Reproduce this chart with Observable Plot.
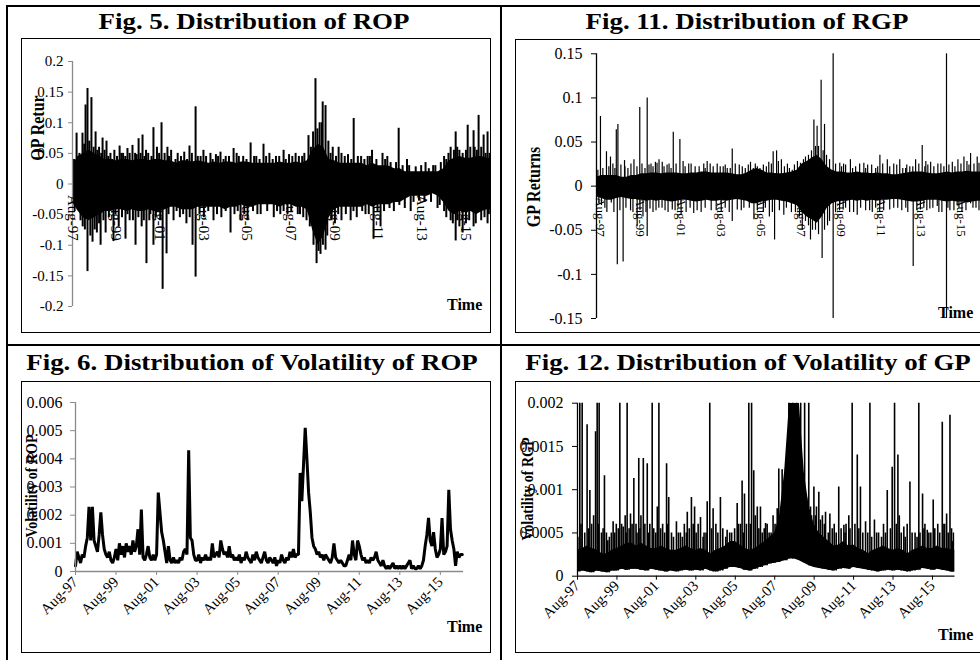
<!DOCTYPE html>
<html>
<head>
<meta charset="utf-8">
<script src="https://cdn.jsdelivr.net/npm/d3@7"></script>
<script src="https://cdn.jsdelivr.net/npm/@observablehq/plot@0.6"></script>
<style>
  body { margin: 0; background: #fff; }
  #page { position: relative; width: 980px; height: 660px; overflow: hidden; background: #fff;
          font-family: "Liberation Serif", "Times New Roman", serif; color: #000; }
  .rule { position: absolute; background: #000; }
  .box { position: absolute; border: 1.5px solid #000; box-sizing: border-box; }
  .chart { position: absolute; }
  .chart svg { display: block; overflow: visible; }
  .title { position: absolute; font-weight: bold; font-size: 23px; white-space: nowrap; line-height: 1;
           transform: translateX(-50%) scaleX(1.17); }
  .time { position: absolute; font-weight: bold; font-size: 16px; line-height: 1; }
  .ylab { position: absolute; font-weight: bold; white-space: nowrap; line-height: 1;
          transform: translate(-50%, -50%) rotate(-90deg) scaleY(1.17); }
</style>
</head>
<body>
<div id="page">
  <div class="rule" style="left:6px;top:5px;width:974px;height:2px"></div>
  <div class="rule" style="left:6px;top:5px;width:2px;height:655px"></div>
  <div class="rule" style="left:500px;top:5px;width:2px;height:655px"></div>
  <div class="rule" style="left:6px;top:344px;width:974px;height:2px"></div>

  <div class="box" style="left:21px;top:38px;width:470px;height:295px"></div>
  <div class="box" style="left:515px;top:39px;width:480px;height:294px"></div>
  <div class="box" style="left:21px;top:381px;width:470px;height:272px"></div>
  <div class="box" style="left:515px;top:381px;width:480px;height:272px"></div>

  <div class="chart" id="c1" style="left:21px;top:38px"></div>
  <div class="chart" id="c2" style="left:515px;top:39px"></div>
  <div class="chart" id="c3" style="left:21px;top:381px"></div>
  <div class="chart" id="c4" style="left:515px;top:381px"></div>

  <div class="title" style="left:254px;top:10px">Fig. 5. Distribution of ROP</div>
  <div class="title" style="left:747px;top:10px">Fig. 11. Distribution of RGP</div>
  <div class="title" style="left:252px;top:351px">Fig. 6. Distribution of Volatility of ROP</div>
  <div class="title" style="left:748px;top:351px">Fig. 12. Distribution of Volatility of GP</div>

  <div class="ylab" style="left:38px;top:128px;font-size:16px">OP Retur</div>
  <div class="ylab" style="left:534px;top:187px;font-size:16px">GP Returns</div>
  <div class="ylab" style="left:32px;top:486px;font-size:14px">Volatility of ROP</div>
  <div class="ylab" style="left:528px;top:489px;font-size:14px">Volatility of RGP</div>

  <div class="time" style="left:447px;top:297px">Time</div>
  <div class="time" style="left:938px;top:305px">Time</div>
  <div class="time" style="left:447px;top:619px">Time</div>
  <div class="time" style="left:938px;top:627px">Time</div>
</div>
<script>
// Time axis: decimal years, Aug 1997 to Sep 2016
const X_START = 1997.583, X_END = 2016.725;
const tickYears = [1997.583, 1999.583, 2001.583, 2003.583, 2005.583, 2007.583, 2009.583, 2011.583, 2013.583, 2015.583];
const tickLabels = ["Aug-97", "Aug-99", "Aug-01", "Aug-03", "Aug-05", "Aug-07", "Aug-09", "Aug-11", "Aug-13", "Aug-15"];

// ROP returns: quarterly core of the dense daily band (from Aug 1997)
const ropHi = [
  0.03, 0.045, 0.05, 0.055, 0.05, 0.045, 0.04, 0.04,
  0.038, 0.04, 0.04, 0.038, 0.04, 0.04, 0.038, 0.04,
  0.04, 0.038, 0.038, 0.034, 0.038, 0.038, 0.036, 0.038,
  0.036, 0.034, 0.036, 0.034, 0.036, 0.036, 0.034, 0.036,
  0.036, 0.034, 0.034, 0.034, 0.034, 0.034, 0.036, 0.034,
  0.034, 0.036, 0.034, 0.038, 0.055, 0.065, 0.06, 0.04,
  0.038, 0.034, 0.034, 0.034, 0.034, 0.034, 0.03, 0.034,
  0.03, 0.03, 0.029, 0.025, 0.025, 0.02, 0.02, 0.02,
  0.02, 0.02, 0.02, 0.02, 0.025, 0.038, 0.042, 0.045,
  0.042, 0.042, 0.045, 0.045, 0.042
];
const ropLo = [
  -0.03, -0.044, -0.055, -0.06, -0.055, -0.05, -0.045, -0.045,
  -0.042, -0.042, -0.045, -0.042, -0.045, -0.045, -0.042, -0.045,
  -0.045, -0.042, -0.038, -0.038, -0.042, -0.042, -0.042, -0.038,
  -0.038, -0.038, -0.038, -0.038, -0.042, -0.038, -0.038, -0.034,
  -0.038, -0.038, -0.034, -0.034, -0.034, -0.034, -0.038, -0.034,
  -0.034, -0.038, -0.038, -0.042, -0.075, -0.1, -0.085, -0.055,
  -0.042, -0.038, -0.038, -0.038, -0.038, -0.038, -0.034, -0.038,
  -0.034, -0.034, -0.034, -0.03, -0.03, -0.025, -0.02, -0.02,
  -0.02, -0.02, -0.016, -0.02, -0.03, -0.045, -0.05, -0.045,
  -0.045, -0.045, -0.05, -0.045, -0.042
];
// ROP returns: individual daily moves beyond the core [year, return]
const ropSpikes = [
  [1997.65, 0.04], [1997.77, 0.083], [1997.9, 0.05], [1998.04, 0.083], [1998.12, 0.065], [1998.18, 0.129],
  [1998.27, 0.156], [1998.35, 0.07], [1998.45, 0.141], [1998.55, 0.06], [1998.64, 0.085], [1998.72, 0.055],
  [1998.8, 0.06], [1998.9, 0.05], [1998.96, 0.075], [1999.05, 0.055], [1999.14, 0.07], [1999.22, 0.045],
  [1999.32, 0.05], [1999.4, 0.04], [1999.5, 0.055], [1999.62, 0.045], [1999.74, 0.062], [1999.82, 0.05],
  [1999.9, 0.05], [2000.0, 0.045], [2000.1, 0.058], [2000.2, 0.05], [2000.33, 0.063], [2000.45, 0.05],
  [2000.52, 0.048], [2000.61, 0.074], [2000.7, 0.05], [2000.79, 0.08], [2000.88, 0.045], [2000.95, 0.055],
  [2001.05, 0.05], [2001.2, 0.045], [2001.29, 0.092], [2001.45, 0.06], [2001.55, 0.05], [2001.66, 0.1],
  [2001.8, 0.05], [2001.93, 0.06], [2002.0, 0.045], [2002.1, 0.055], [2002.3, 0.04], [2002.4, 0.05],
  [2002.55, 0.045], [2002.7, 0.052], [2002.83, 0.04], [2002.94, 0.062], [2003.05, 0.05], [2003.22, 0.126],
  [2003.32, 0.045], [2003.45, 0.045], [2003.58, 0.055], [2003.7, 0.045], [2003.9, 0.05], [2004.0, 0.04],
  [2004.15, 0.048], [2004.25, 0.045], [2004.36, 0.052], [2004.5, 0.04], [2004.6, 0.045], [2004.75, 0.045],
  [2004.96, 0.058], [2005.1, 0.05], [2005.2, 0.045], [2005.4, 0.045], [2005.55, 0.04], [2005.74, 0.067],
  [2005.9, 0.045], [2006.0, 0.045], [2006.15, 0.04], [2006.33, 0.065], [2006.45, 0.045], [2006.6, 0.05],
  [2006.75, 0.04], [2006.9, 0.045], [2007.05, 0.045], [2007.25, 0.055], [2007.35, 0.04], [2007.5, 0.048],
  [2007.65, 0.045], [2007.8, 0.05], [2007.95, 0.045], [2008.1, 0.045], [2008.2, 0.05], [2008.39, 0.079],
  [2008.5, 0.06], [2008.6, 0.085], [2008.71, 0.172], [2008.8, 0.09], [2008.9, 0.1], [2009.0, 0.1],
  [2009.04, 0.134], [2009.17, 0.128], [2009.3, 0.07], [2009.4, 0.05], [2009.5, 0.06], [2009.65, 0.045],
  [2009.77, 0.06], [2009.9, 0.05], [2010.05, 0.045], [2010.2, 0.048], [2010.35, 0.04], [2010.46, 0.107],
  [2010.65, 0.045], [2010.8, 0.045], [2010.95, 0.04], [2011.1, 0.045], [2011.2, 0.045], [2011.3, 0.055],
  [2011.5, 0.04], [2011.78, 0.05], [2011.9, 0.04], [2012.0, 0.045], [2012.15, 0.035], [2012.4, 0.035],
  [2012.52, 0.091], [2012.7, 0.03], [2012.9, 0.04], [2013.0, 0.03], [2013.3, 0.028], [2013.55, 0.03],
  [2013.75, 0.035], [2013.9, 0.025], [2014.1, 0.03], [2014.2, 0.03], [2014.45, 0.035], [2014.6, 0.045],
  [2014.7, 0.04], [2014.8, 0.05], [2014.9, 0.06], [2015.05, 0.055], [2015.13, 0.085], [2015.2, 0.06],
  [2015.3, 0.055], [2015.45, 0.05], [2015.6, 0.055], [2015.68, 0.096], [2015.8, 0.06], [2015.95, 0.087],
  [2016.0, 0.06], [2016.1, 0.055], [2016.18, 0.112], [2016.3, 0.06], [2016.41, 0.08], [2016.5, 0.05],
  [2016.59, 0.085], [2016.68, 0.05],
  [1997.68, -0.045], [1997.95, -0.06], [1998.05, -0.07], [1998.15, -0.075], [1998.27, -0.143], [1998.4, -0.085],
  [1998.5, -0.095], [1998.6, -0.075], [1998.7, -0.08], [1998.8, -0.065], [1998.87, -0.1], [1999.0, -0.06],
  [1999.1, -0.08], [1999.25, -0.055], [1999.46, -0.094], [1999.55, -0.05], [1999.7, -0.07], [1999.85, -0.055],
  [2000.01, -0.09], [2000.1, -0.05], [2000.2, -0.06], [2000.35, -0.06], [2000.47, -0.1], [2000.6, -0.055],
  [2000.75, -0.07], [2000.85, -0.06], [2000.97, -0.13], [2001.1, -0.06], [2001.15, -0.05], [2001.29, -0.1],
  [2001.4, -0.055], [2001.6, -0.06], [2001.71, -0.172], [2001.89, -0.114], [2001.98, -0.05], [2002.21, -0.06],
  [2002.35, -0.045], [2002.5, -0.055], [2002.65, -0.05], [2002.8, -0.065], [2002.95, -0.055], [2003.08, -0.1],
  [2003.22, -0.152], [2003.4, -0.05], [2003.6, -0.055], [2003.8, -0.045], [2004.04, -0.06], [2004.2, -0.05],
  [2004.4, -0.055], [2004.6, -0.045], [2004.82, -0.08], [2005.0, -0.05], [2005.15, -0.045], [2005.28, -0.06],
  [2005.45, -0.05], [2005.6, -0.06], [2005.85, -0.045], [2006.05, -0.05], [2006.2, -0.05], [2006.5, -0.045],
  [2006.8, -0.055], [2006.95, -0.045], [2007.1, -0.05], [2007.25, -0.045], [2007.43, -0.05], [2007.6, -0.045],
  [2007.9, -0.05], [2008.0, -0.05], [2008.15, -0.055], [2008.3, -0.06], [2008.45, -0.07], [2008.62, -0.1],
  [2008.76, -0.13], [2008.85, -0.11], [2008.94, -0.115], [2009.05, -0.1], [2009.17, -0.108], [2009.25, -0.085],
  [2009.45, -0.06], [2009.6, -0.065], [2009.75, -0.05], [2009.9, -0.06], [2010.1, -0.05], [2010.32, -0.06],
  [2010.45, -0.045], [2010.6, -0.055], [2010.85, -0.045], [2011.0, -0.05], [2011.15, -0.05], [2011.37, -0.09],
  [2011.55, -0.045], [2011.69, -0.07], [2011.85, -0.045], [2012.1, -0.04], [2012.3, -0.045], [2012.55, -0.035],
  [2012.8, -0.04], [2013.07, -0.045], [2013.2, -0.03], [2013.45, -0.028], [2013.7, -0.03], [2014.0, -0.03],
  [2014.3, -0.04], [2014.4, -0.035], [2014.6, -0.045], [2014.7, -0.055], [2014.9, -0.06], [2015.0, -0.065],
  [2015.13, -0.093], [2015.2, -0.06], [2015.3, -0.07], [2015.45, -0.08], [2015.6, -0.065], [2015.75, -0.06],
  [2015.95, -0.07], [2016.05, -0.065], [2016.3, -0.06], [2016.45, -0.055], [2016.59, -0.065], [2016.65, -0.05]
];

// GP returns: quarterly core of the dense daily band
const gpHi = [
  0.01, 0.012, 0.012, 0.012, 0.012, 0.01, 0.01, 0.012,
  0.012, 0.014, 0.014, 0.015, 0.015, 0.014, 0.015, 0.015,
  0.015, 0.014, 0.014, 0.015, 0.015, 0.016, 0.016, 0.015,
  0.015, 0.015, 0.015, 0.014, 0.013, 0.013, 0.015, 0.018,
  0.02, 0.018, 0.015, 0.015, 0.014, 0.014, 0.015, 0.016,
  0.018, 0.025, 0.028, 0.032, 0.035, 0.03, 0.022, 0.018,
  0.016, 0.016, 0.015, 0.015, 0.016, 0.015, 0.015, 0.014,
  0.015, 0.014, 0.014, 0.013, 0.013, 0.014, 0.015, 0.016,
  0.016, 0.016, 0.015, 0.014, 0.014, 0.015, 0.016, 0.015,
  0.016, 0.016, 0.017, 0.016, 0.016
];
const gpLo = [
  -0.012, -0.014, -0.016, -0.016, -0.014, -0.013, -0.014, -0.015,
  -0.015, -0.016, -0.017, -0.016, -0.017, -0.016, -0.017, -0.018,
  -0.017, -0.016, -0.016, -0.017, -0.018, -0.017, -0.016, -0.017,
  -0.017, -0.016, -0.017, -0.016, -0.015, -0.016, -0.017, -0.02,
  -0.02, -0.018, -0.017, -0.016, -0.016, -0.017, -0.018, -0.02,
  -0.022, -0.03, -0.035, -0.038, -0.042, -0.035, -0.025, -0.02,
  -0.018, -0.017, -0.017, -0.016, -0.017, -0.016, -0.017, -0.016,
  -0.017, -0.016, -0.016, -0.015, -0.015, -0.016, -0.017, -0.018,
  -0.018, -0.017, -0.016, -0.016, -0.016, -0.017, -0.018, -0.017,
  -0.018, -0.018, -0.019, -0.018, -0.017
];
const gpSpikes = [
  [1997.65, 0.018], [1997.78, 0.079], [1997.9, 0.02], [1998.08, 0.039], [1998.2, 0.022], [1998.28, 0.033],
  [1998.4, 0.025], [1998.5, 0.02], [1998.57, 0.064], [1998.65, 0.07], [1998.8, 0.024], [1998.98, 0.029],
  [1999.0, 0.022], [1999.15, 0.02], [1999.3, 0.025], [1999.45, 0.03], [1999.6, 0.022], [1999.74, 0.089],
  [1999.85, 0.025], [2000.0, 0.02], [2000.11, 0.1], [2000.2, 0.024], [2000.3, 0.025], [2000.4, 0.022],
  [2000.52, 0.027], [2000.6, 0.026], [2000.7, 0.03], [2000.86, 0.027], [2000.95, 0.022], [2001.1, 0.024],
  [2001.2, 0.025], [2001.3, 0.02], [2001.41, 0.061], [2001.55, 0.025], [2001.74, 0.053], [2001.9, 0.028],
  [2002.0, 0.022], [2002.18, 0.025], [2002.3, 0.025], [2002.5, 0.022], [2002.7, 0.022], [2002.93, 0.025],
  [2003.0, 0.02], [2003.1, 0.028], [2003.25, 0.025], [2003.4, 0.022], [2003.6, 0.025], [2003.75, 0.022],
  [2003.9, 0.022], [2004.0, 0.024], [2004.1, 0.02], [2004.25, 0.02], [2004.35, 0.042], [2004.5, 0.025],
  [2004.7, 0.024], [2004.85, 0.022], [2005.0, 0.02], [2005.15, 0.024], [2005.26, 0.027], [2005.4, 0.02],
  [2005.5, 0.025], [2005.6, 0.022], [2005.73, 0.02], [2005.9, 0.024], [2006.05, 0.022], [2006.17, 0.027],
  [2006.3, 0.025], [2006.39, 0.039], [2006.56, 0.04], [2006.65, 0.028], [2006.8, 0.03], [2006.95, 0.022],
  [2007.1, 0.025], [2007.2, 0.02], [2007.34, 0.018], [2007.45, 0.024], [2007.6, 0.028], [2007.75, 0.026],
  [2007.9, 0.03], [2008.0, 0.033], [2008.15, 0.035], [2008.3, 0.04], [2008.42, 0.075], [2008.5, 0.045],
  [2008.58, 0.068], [2008.65, 0.045], [2008.78, 0.12], [2008.88, 0.04], [2008.95, 0.07], [2009.05, 0.035],
  [2009.2, 0.03], [2009.38, 0.15], [2009.5, 0.025], [2009.71, 0.026], [2009.8, 0.022], [2009.9, 0.025],
  [2010.0, 0.024], [2010.24, 0.03], [2010.35, 0.02], [2010.5, 0.022], [2010.7, 0.025], [2010.91, 0.026],
  [2011.0, 0.02], [2011.1, 0.024], [2011.3, 0.024], [2011.5, 0.02], [2011.6, 0.022], [2011.71, 0.035],
  [2011.85, 0.025], [2012.08, 0.03], [2012.2, 0.022], [2012.4, 0.025], [2012.55, 0.024], [2012.7, 0.03],
  [2012.85, 0.02], [2012.99, 0.02], [2013.05, 0.024], [2013.2, 0.022], [2013.35, 0.022], [2013.49, 0.03],
  [2013.65, 0.025], [2013.82, 0.046], [2013.95, 0.022], [2014.0, 0.028], [2014.1, 0.024], [2014.24, 0.027],
  [2014.4, 0.022], [2014.6, 0.025], [2014.75, 0.025], [2014.9, 0.022], [2015.03, 0.15], [2015.15, 0.024],
  [2015.32, 0.027], [2015.45, 0.022], [2015.6, 0.03], [2015.75, 0.025], [2015.9, 0.033], [2016.05, 0.028],
  [2016.15, 0.024], [2016.23, 0.037], [2016.4, 0.025], [2016.56, 0.033], [2016.65, 0.026],
  [1997.7, -0.02], [1997.83, -0.022], [1998.0, -0.025], [1998.1, -0.03], [1998.32, -0.019], [1998.45, -0.03],
  [1998.62, -0.089], [1998.75, -0.028], [1998.91, -0.086], [1999.05, -0.025], [1999.28, -0.028], [1999.4, -0.03],
  [1999.61, -0.046], [1999.75, -0.028], [1999.9, -0.035], [2000.05, -0.03], [2000.11, -0.057], [2000.25, -0.026],
  [2000.4, -0.03], [2000.55, -0.028], [2000.69, -0.025], [2000.85, -0.025], [2001.0, -0.028], [2001.15, -0.03],
  [2001.36, -0.027], [2001.5, -0.028], [2001.65, -0.025], [2001.8, -0.032], [2002.05, -0.03], [2002.25, -0.025],
  [2002.43, -0.031], [2002.6, -0.028], [2002.8, -0.03], [2003.0, -0.025], [2003.3, -0.028], [2003.55, -0.028],
  [2003.8, -0.03], [2004.0, -0.025], [2004.2, -0.03], [2004.35, -0.04], [2004.6, -0.027], [2004.8, -0.028],
  [2004.93, -0.025], [2005.2, -0.025], [2005.43, -0.038], [2005.6, -0.028], [2005.9, -0.03], [2006.0, -0.025],
  [2006.2, -0.035], [2006.35, -0.03], [2006.46, -0.061], [2006.7, -0.028], [2006.92, -0.033], [2007.05, -0.025],
  [2007.3, -0.03], [2007.5, -0.03], [2007.7, -0.035], [2007.84, -0.05], [2008.0, -0.04], [2008.15, -0.045],
  [2008.25, -0.061], [2008.35, -0.05], [2008.5, -0.05], [2008.65, -0.055], [2008.83, -0.082], [2008.95, -0.05],
  [2009.1, -0.045], [2009.2, -0.04], [2009.38, -0.15], [2009.5, -0.03], [2009.7, -0.028], [2009.88, -0.027],
  [2010.0, -0.025], [2010.2, -0.03], [2010.4, -0.03], [2010.58, -0.033], [2010.75, -0.025], [2011.0, -0.028],
  [2011.2, -0.028], [2011.33, -0.03], [2011.5, -0.025], [2011.7, -0.03], [2011.9, -0.028], [2012.2, -0.027],
  [2012.4, -0.025], [2012.6, -0.025], [2012.8, -0.028], [2013.0, -0.025], [2013.1, -0.03], [2013.37, -0.091],
  [2013.55, -0.028], [2013.73, -0.027], [2013.9, -0.025], [2014.05, -0.028], [2014.2, -0.026], [2014.35, -0.025],
  [2014.57, -0.023], [2014.65, -0.03], [2014.8, -0.03], [2015.03, -0.15], [2015.1, -0.025], [2015.2, -0.028],
  [2015.4, -0.028], [2015.56, -0.022], [2015.65, -0.025], [2015.8, -0.03], [2016.0, -0.028], [2016.23, -0.02],
  [2016.35, -0.025], [2016.5, -0.025], [2016.65, -0.028]
];

// Conditional volatility of ROP, monthly from Aug 1997 (one row per Aug-Jul year)
const ropVol = [
  0.0002, 0.0007, 0.0005, 0.0003, 0.0006, 0.0005, 0.0009, 0.0012, 0.0023, 0.0011, 0.0023, 0.0011,
  0.0009, 0.0007, 0.0013, 0.0021, 0.0013, 0.0008, 0.0006, 0.0005, 0.0007, 0.0004, 0.0003, 0.0005,
  0.0008, 0.0004, 0.001, 0.0006, 0.0009, 0.0005, 0.001, 0.0007, 0.0009, 0.0006, 0.0011, 0.0007,
  0.0009, 0.0015, 0.0006, 0.0022, 0.0005, 0.0004, 0.0006, 0.0009, 0.0005, 0.0004, 0.0006, 0.0004,
  0.0006, 0.0028, 0.0021, 0.0014, 0.0011, 0.0007, 0.0003, 0.0009, 0.0004, 0.0003, 0.0005, 0.0003,
  0.0004, 0.0003, 0.0005, 0.0004, 0.0007, 0.0008, 0.0006, 0.0043, 0.0012, 0.0011, 0.0006, 0.0004,
  0.0004, 0.0006, 0.0003, 0.0005, 0.0004, 0.0006, 0.0004, 0.0005, 0.0004, 0.001, 0.0005, 0.0006,
  0.0007, 0.0005, 0.0011, 0.0008, 0.0006, 0.0007, 0.0005, 0.0009, 0.0005, 0.0006, 0.0004, 0.0005,
  0.0004, 0.0006, 0.0003, 0.0005, 0.0004, 0.0007, 0.0005, 0.0004, 0.0003, 0.0006, 0.0004, 0.0007,
  0.0005, 0.0004, 0.0003, 0.0005, 0.0007, 0.0004, 0.0003, 0.0005, 0.0004, 0.0003, 0.0005, 0.0002,
  0.0004, 0.0003, 0.0006, 0.0004, 0.0003, 0.0005, 0.0004, 0.0007, 0.0005, 0.0008, 0.0005, 0.0006,
  0.0006, 0.0035, 0.0025, 0.0038, 0.0051, 0.004, 0.0028, 0.0021, 0.0012, 0.0009, 0.0008, 0.0006,
  0.0007, 0.0005, 0.0006, 0.0004, 0.0006, 0.0005, 0.0004, 0.0003, 0.0005, 0.001, 0.0005, 0.0004,
  0.0003, 0.0004, 0.0003, 0.0002, 0.0002, 0.0004, 0.0006, 0.0004, 0.0011, 0.0006, 0.0004, 0.0011,
  0.0009, 0.0006, 0.0004, 0.0005, 0.0003, 0.0004, 0.0003, 0.0005, 0.0004, 0.0005, 0.0007, 0.0004,
  0.0003, 0.0002, 0.0004, 0.0002, 0.0001, 0.0002, 0.0001, 0.0002, 0.0003, 0.0001, 0.0002, 0.0001,
  0.0002, 0.0001, 0.0002, 0.0001, 0.0002, 0.0003, 0.0004, 0.0001, 0.0002, 0.0001, 0.0001, 0.0002,
  0.0001, 0.0002, 0.0004, 0.0009, 0.0013, 0.0019, 0.0011, 0.0009, 0.0014, 0.0008, 0.0005, 0.0006,
  0.0008, 0.0019, 0.0006, 0.0007, 0.0009, 0.0029, 0.0015, 0.0011, 0.0008, 0.0002, 0.0007, 0.0005,
  0.0006, 0.0006
];

// Conditional volatility of GP: quarterly band plus individual bursts
const gpVolHi = [
  0.0003, 0.00032, 0.00035, 0.00032, 0.0003, 0.00026, 0.00026, 0.0003,
  0.00032, 0.00035, 0.00038, 0.00038, 0.00035, 0.00038, 0.00035, 0.00032,
  0.00032, 0.00035, 0.00032, 0.0003, 0.0003, 0.00032, 0.00035, 0.00032,
  0.0003, 0.00032, 0.0003, 0.00026, 0.0003, 0.00032, 0.00035, 0.0004,
  0.0004, 0.00036, 0.00032, 0.0003, 0.00032, 0.00036, 0.0004, 0.00045,
  0.0005, 0.0007, 0.0012, 0.002, 0.002, 0.002, 0.0012, 0.0008,
  0.0006, 0.0005, 0.00045, 0.0004, 0.00035, 0.00036, 0.0004, 0.00035,
  0.00036, 0.00032, 0.0003, 0.00026, 0.0003, 0.00032, 0.00035, 0.00032,
  0.0003, 0.00032, 0.0003, 0.00026, 0.0003, 0.00032, 0.00035, 0.00032,
  0.00032, 0.00035, 0.00032, 0.00032, 0.0003
];
const gpVolLo = [
  0.00005, 0.00006, 0.00005, 0.00004, 0.00006, 0.00005, 0.00004, 0.00006,
  0.00006, 0.00008, 0.00007, 0.00008, 0.00008, 0.00007, 0.00006, 0.00008,
  0.00007, 0.00006, 0.00005, 0.00006, 0.00005, 0.00006, 0.00007, 0.00006,
  0.00007, 0.00006, 0.00008, 0.00006, 0.00005, 0.00006, 0.00008, 0.0001,
  0.0001, 0.00009, 0.00007, 0.00006, 0.00008, 0.0001, 0.00012, 0.00014,
  0.00015, 0.00016, 0.00018, 0.0002, 0.0002, 0.00018, 0.00015, 0.00012,
  0.0001, 0.00009, 0.00008, 0.00007, 0.00006, 0.00008, 0.00009, 0.00008,
  0.0001, 0.00009, 0.00008, 0.00007, 0.00006, 0.00005, 0.00006, 0.00007,
  0.00006, 0.00007, 0.00006, 0.00005, 0.00006, 0.00007, 0.00009, 0.00008,
  0.00007, 0.00008, 0.00007, 0.00006, 0.00005
];
// bursts above the band; 0.0025 marks a burst running off the top of the axis
const gpVolSpikes = [
  [1997.6, 0.00045], [1997.7, 0.0025], [1997.76, 0.0006], [1997.82, 0.0025], [1997.95, 0.0005], [1998.07, 0.00175],
  [1998.15, 0.00055], [1998.21, 0.00099], [1998.3, 0.0006], [1998.4, 0.0007], [1998.5, 0.00167], [1998.58, 0.0025],
  [1998.63, 0.0006], [1998.68, 0.0025], [1998.8, 0.0005], [1998.88, 0.00055], [1998.95, 0.00116], [1999.05, 0.0005],
  [1999.12, 0.00041], [1999.2, 0.00045], [1999.3, 0.0005], [1999.39, 0.00063], [1999.47, 0.0005], [1999.55, 0.0006],
  [1999.65, 0.00055], [1999.73, 0.0025], [1999.82, 0.0006], [1999.9, 0.00057], [2000.0, 0.0007], [2000.05, 0.0005],
  [2000.1, 0.0025], [2000.2, 0.00055], [2000.27, 0.00072], [2000.35, 0.0006], [2000.44, 0.00113], [2000.55, 0.0006],
  [2000.6, 0.0005], [2000.69, 0.00136], [2000.75, 0.00055], [2000.8, 0.0007], [2000.92, 0.00136], [2001.0, 0.0006],
  [2001.12, 0.0013], [2001.18, 0.0005], [2001.25, 0.0006], [2001.37, 0.0025], [2001.45, 0.00055], [2001.55, 0.0005],
  [2001.63, 0.0008], [2001.71, 0.0025], [2001.8, 0.00055], [2001.9, 0.0006], [2002.0, 0.0005], [2002.1, 0.0013],
  [2002.15, 0.0006], [2002.21, 0.00091], [2002.35, 0.0005], [2002.45, 0.00045], [2002.6, 0.00063], [2002.7, 0.0005],
  [2002.8, 0.0005], [2002.9, 0.00045], [2003.0, 0.0006], [2003.1, 0.0005], [2003.15, 0.00074], [2003.25, 0.00055],
  [2003.36, 0.00091], [2003.45, 0.0006], [2003.52, 0.0008], [2003.6, 0.0005], [2003.7, 0.0006], [2003.82, 0.00068],
  [2003.95, 0.00045], [2004.0, 0.0005], [2004.1, 0.0005], [2004.16, 0.00086], [2004.29, 0.0025], [2004.38, 0.00055],
  [2004.46, 0.00078], [2004.6, 0.0006], [2004.7, 0.0005], [2004.83, 0.00091], [2004.95, 0.00055], [2005.1, 0.00045],
  [2005.17, 0.00053], [2005.3, 0.0005], [2005.4, 0.0005], [2005.55, 0.00055], [2005.68, 0.00084], [2005.75, 0.0006],
  [2005.85, 0.0006], [2005.93, 0.0011], [2006.0, 0.0005], [2006.05, 0.00095], [2006.15, 0.0006], [2006.27, 0.0025],
  [2006.35, 0.0006], [2006.41, 0.0025], [2006.52, 0.00122], [2006.6, 0.0007], [2006.7, 0.0008], [2006.78, 0.00055],
  [2006.86, 0.0008], [2006.95, 0.0005], [2007.05, 0.00055], [2007.12, 0.00061], [2007.2, 0.0006], [2007.3, 0.0005],
  [2007.4, 0.0005], [2007.5, 0.0007], [2007.6, 0.0006], [2007.71, 0.00078], [2007.79, 0.00124], [2007.85, 0.0007],
  [2007.96, 0.00123], [2008.05, 0.0008], [2008.13, 0.00123], [2008.2, 0.001], [2008.3, 0.0025], [2008.5, 0.0025],
  [2008.7, 0.0025], [2008.9, 0.0025], [2009.1, 0.0025], [2009.2, 0.0009], [2009.31, 0.0025], [2009.4, 0.0008],
  [2009.45, 0.0007], [2009.57, 0.00103], [2009.65, 0.0007], [2009.7, 0.0008], [2009.82, 0.00097], [2009.9, 0.00065],
  [2010.0, 0.0007], [2010.1, 0.0006], [2010.16, 0.00074], [2010.3, 0.0005], [2010.38, 0.00072], [2010.5, 0.00055],
  [2010.6, 0.0006], [2010.7, 0.0005], [2010.83, 0.00103], [2010.95, 0.00055], [2011.09, 0.00059], [2011.15, 0.0005],
  [2011.2, 0.0006], [2011.34, 0.0007], [2011.4, 0.00055], [2011.51, 0.0025], [2011.65, 0.0006], [2011.77, 0.0014],
  [2011.85, 0.00055], [2011.93, 0.00103], [2012.05, 0.0005], [2012.19, 0.00063], [2012.3, 0.0005], [2012.41, 0.0025],
  [2012.5, 0.00045], [2012.64, 0.00065], [2012.75, 0.0005], [2012.85, 0.0005], [2013.0, 0.00045], [2013.1, 0.0006],
  [2013.2, 0.0005], [2013.29, 0.00099], [2013.45, 0.00055], [2013.54, 0.00126], [2013.66, 0.0025], [2013.75, 0.0006],
  [2013.83, 0.0014], [2013.9, 0.0007], [2014.0, 0.0005], [2014.13, 0.00057], [2014.2, 0.00045], [2014.3, 0.0006],
  [2014.44, 0.00109], [2014.55, 0.0005], [2014.7, 0.0005], [2014.8, 0.00045], [2014.89, 0.0025], [2014.95, 0.0005],
  [2015.08, 0.00095], [2015.15, 0.00055], [2015.2, 0.0006], [2015.32, 0.00053], [2015.4, 0.0005], [2015.5, 0.0005],
  [2015.62, 0.00088], [2015.7, 0.00055], [2015.85, 0.0006], [2015.95, 0.0005], [2016.08, 0.00178], [2016.12, 0.0006],
  [2016.2, 0.0006], [2016.3, 0.00072], [2016.38, 0.0005], [2016.47, 0.00186], [2016.55, 0.00055], [2016.59, 0.0004],
  [2016.65, 0.0005]
];

// Y axis ticks and their printed labels
const ropTicks = [0.2, 0.15, 0.1, 0.05, 0, -0.05, -0.1, -0.15, -0.2];
const ropTickLabels = ["0.2", "0.15", "0.1", "0.05", "0", "-0.05", "-0.1", "-0.15", "-0.2"];
const gpTicks = [0.15, 0.1, 0.05, 0, -0.05, -0.1, -0.15];
const gpTickLabels = ["0.15", "0.1", "0.05", "0", "-0.05", "-0.1", "-0.15"];
const ropVolTicks = [0.006, 0.005, 0.004, 0.003, 0.002, 0.001, 0];
const ropVolTickLabels = ["0.006", "0.005", "0.004", "0.003", "0.002", "0.001", "0"];
const gpVolTicks = [0.002, 0.0015, 0.001, 0.0005, 0];
const gpVolTickLabels = ["0.002", "0.0015", "0.001", "0.0005", "0"];

// ---- helpers ----
const quarterly = (lo, hi) => {
  const rows = lo.map((l, i) => ({t: X_START + i * 0.25, lo: l, hi: hi[i]}));
  rows.push({t: X_END, lo: lo[lo.length - 1], hi: hi[hi.length - 1]});
  return rows;
};
const spikeRows = (pairs, base) => pairs.map(([t, v]) => ({t, v, b: base ? base(t) : 0}));
const labeller = (ticks, labels) => { const m = new Map(ticks.map((t, i) => [t, labels[i]])); return d => m.get(d); };
const xLabel = labeller(tickYears, tickLabels);
const FONT = "Liberation Serif, Times New Roman, serif";

function draw(id, o) {
  const svg = Plot.plot({
    width: o.width, height: o.height,
    marginTop: o.mt, marginRight: o.mr, marginBottom: o.mb, marginLeft: o.ml,
    x: {domain: [X_START, X_END], axis: null, label: null},
    y: {domain: o.yDomain, label: null},
    style: {fontFamily: FONT, fontSize: o.fontSize + "px", color: "#000", background: "transparent", overflow: "visible"},
    marks: [
      ...o.marks,
      Plot.ruleX([X_START], {y1: o.yDomain[0], y2: o.yDomain[1], stroke: o.axisColor, strokeWidth: 1.3}),
      Plot.axisY({ticks: o.yTicks, tickFormat: labeller(o.yTicks, o.yLabels), tickSize: o.tickSize, tickPadding: o.tickPadding,
                  stroke: o.axisColor, fill: "#000", fontSize: o.fontSize, label: null}),
      ...(o.after || [])
    ]
  });
  document.getElementById(id).appendChild(svg);
}

// Fig. 5 — ROP returns
draw("c1", {
  width: 469, height: 294, mt: 23, mr: 0, mb: 26, ml: 51,
  yDomain: [-0.2, 0.2], yTicks: ropTicks, yLabels: ropTickLabels,
  axisColor: "#8a8a8a", fontSize: 15, tickSize: 4, tickPadding: 5,
  marks: [
    Plot.areaY(quarterly(ropLo, ropHi), {x: "t", y1: "lo", y2: "hi", fill: "#000"}),
    Plot.ruleX(spikeRows(ropSpikes), {x: "t", y1: "b", y2: "v", stroke: "#000", strokeWidth: 2})
  ],
  after: [
    Plot.text(tickYears, {x: d => d, y: 0, text: xLabel, rotate: 90, textAnchor: "start", dy: 11, fontSize: 15, fill: "#000"})
  ]
});

// Fig. 11 — GP returns
draw("c2", {
  width: 465, height: 293, mt: 14.3, mr: 0, mb: 14, ml: 81,
  yDomain: [-0.15, 0.15], yTicks: gpTicks, yLabels: gpTickLabels,
  axisColor: "#000", fontSize: 16, tickSize: 5, tickPadding: 9,
  marks: [
    Plot.areaY(quarterly(gpLo, gpHi), {x: "t", y1: "lo", y2: "hi", fill: "#000"}),
    Plot.ruleX(spikeRows(gpSpikes), {x: "t", y1: "b", y2: "v", stroke: "#000", strokeWidth: 1.2})
  ],
  after: [
    Plot.text(tickYears, {x: d => d, y: 0, text: xLabel, rotate: 90, textAnchor: "start", dx: 4, dy: 11, fontSize: 13, fill: "#000"})
  ]
});

// Fig. 6 — volatility of ROP
const ropVolRows = ropVol.map((v, i) => ({t: X_START + i / 12, v}));
draw("c3", {
  width: 469, height: 271, mt: 21, mr: 27, mb: 81, ml: 54,
  yDomain: [0, 0.006], yTicks: ropVolTicks, yLabels: ropVolTickLabels,
  axisColor: "#8a8a8a", fontSize: 16, tickSize: 5, tickPadding: 8,
  marks: [
    Plot.ruleY([0], {stroke: "#8a8a8a", strokeWidth: 1.3}),
    Plot.lineY(ropVolRows, {x: "t", y: "v", stroke: "#000", strokeWidth: 3, strokeLinejoin: "miter"})
  ],
  after: [
    Plot.axisX({ticks: tickYears, tickFormat: xLabel, tickRotate: -45, tickSize: 4, tickPadding: 4,
                stroke: "#8a8a8a", fill: "#000", fontSize: 15, label: null})
  ]
});

// Fig. 12 — volatility of GP
const loAt = t => { const i = Math.max(0, Math.min(gpVolLo.length - 1, Math.round((t - X_START) / 0.25))); return gpVolLo[i]; };
draw("c4", {
  width: 465, height: 271, mt: 21.7, mr: 25.5, mb: 76.3, ml: 62,
  yDomain: [0, 0.002], yTicks: gpVolTicks, yLabels: gpVolTickLabels,
  axisColor: "#000", fontSize: 16, tickSize: 5, tickPadding: 9,
  marks: [
    Plot.areaY(quarterly(gpVolLo, gpVolHi), {x: "t", y1: "lo", y2: "hi", fill: "#000", clip: true}),
    Plot.ruleX(spikeRows(gpVolSpikes, loAt), {x: "t", y1: "b", y2: "v", stroke: "#000", strokeWidth: 1.6, clip: true}),
    Plot.ruleY([0], {stroke: "#000", strokeWidth: 1.3})
  ],
  after: [
    Plot.axisX({ticks: tickYears, tickFormat: xLabel, tickRotate: -45, tickSize: 4, tickPadding: 3,
                stroke: "#000", fill: "#000", fontSize: 15, label: null})
  ]
});
</script>
</body>
</html>
